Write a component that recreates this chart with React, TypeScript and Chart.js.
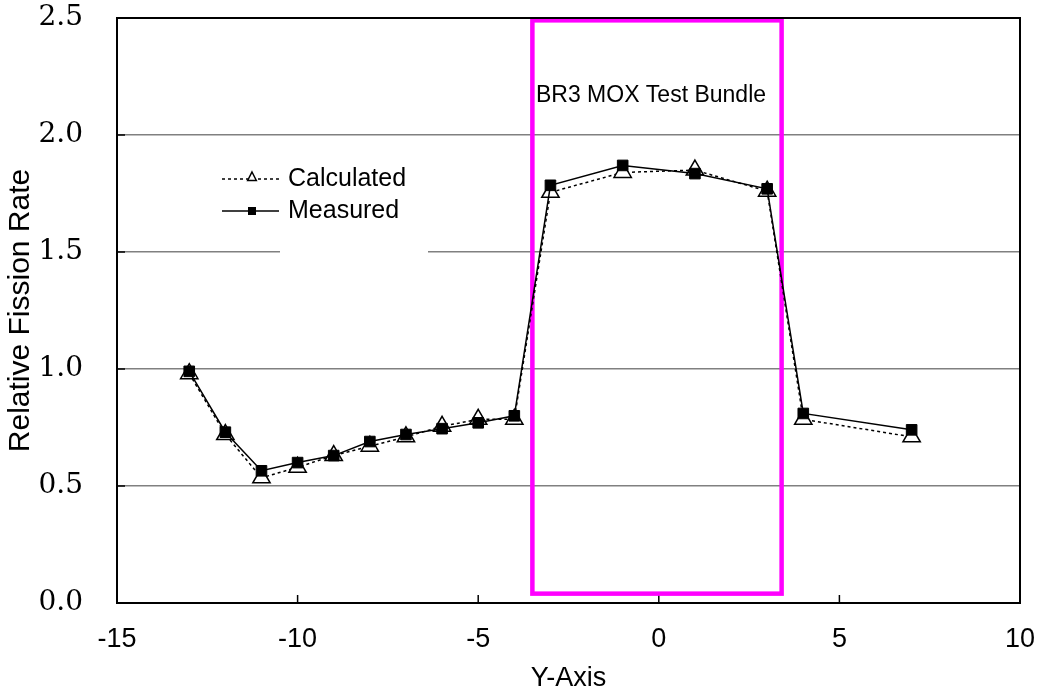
import React, { useEffect, useRef } from "react";
import { Chart, registerables } from "chart.js";

Chart.register(...registerables);

// ---- data ----
const yAxisPositions = [-13, -12, -11, -10, -9, -8, -7, -6, -5, -4, -3, -1, 1, 3, 4, 7];
const calculatedValues = [0.98, 0.72, 0.535, 0.58, 0.63, 0.67, 0.71, 0.755, 0.785, 0.785, 1.755, 1.84, 1.85, 1.76, 0.785, 0.71];
const measuredValues = [0.99, 0.73, 0.565, 0.6, 0.63, 0.69, 0.72, 0.745, 0.77, 0.8, 1.785, 1.87, 1.835, 1.77, 0.81, 0.74];
const xTickValues = [-15, -10, -5, 0, 5, 10];
const yTickValues = [0, 0.5, 1.0, 1.5, 2.0, 2.5];
const bundleXRange = [-3.5, 3.4];
const bundleYRange = [0.04, 2.49];
const bundleLabel = "BR3 MOX Test Bundle";
const seriesNames = ["Calculated", "Measured"];

const SANS = "'Liberation Sans', Arial, sans-serif";
const SERIF = "'DejaVu Serif', serif";

const decorPlugin = {
  id: "decor",
  beforeDatasetsDraw(chart: any) {
    const { ctx, chartArea, scales } = chart;
    const xs = scales.x;
    const ys = scales.y;
    ctx.save();
    // white legend backing (interrupts gridline)
    ctx.fillStyle = "#ffffff";
    ctx.fillRect(280, 150, 148, 106);
    // inner tick marks
    ctx.strokeStyle = "#000";
    ctx.lineWidth = 1.5;
    xTickValues.forEach((v) => {
      const px = xs.getPixelForValue(v);
      ctx.beginPath();
      ctx.moveTo(px, chartArea.bottom);
      ctx.lineTo(px, chartArea.bottom - 8);
      ctx.stroke();
    });
    yTickValues.forEach((v) => {
      const py = ys.getPixelForValue(v);
      ctx.beginPath();
      ctx.moveTo(chartArea.left, py);
      ctx.lineTo(chartArea.left + 8, py);
      ctx.stroke();
    });
    // magenta bundle box
    const bx0 = xs.getPixelForValue(bundleXRange[0]);
    const bx1 = xs.getPixelForValue(bundleXRange[1]);
    const by0 = ys.getPixelForValue(bundleYRange[1]);
    const by1 = ys.getPixelForValue(bundleYRange[0]);
    ctx.strokeStyle = "#ff00ff";
    ctx.lineWidth = 4.5;
    ctx.strokeRect(bx0, by0, bx1 - bx0, by1 - by0);
    // label
    ctx.fillStyle = "#000";
    ctx.font = `23px ${SANS}`;
    ctx.textAlign = "center";
    ctx.textBaseline = "alphabetic";
    ctx.fillText(bundleLabel, (bx0 + bx1) / 2 - 6, 101.5);
    ctx.restore();
  },
  afterDatasetsDraw(chart: any) {
    const { ctx, chartArea } = chart;
    ctx.save();
    // frame
    ctx.strokeStyle = "#000";
    ctx.lineWidth = 2;
    ctx.strokeRect(chartArea.left, chartArea.top, chartArea.right - chartArea.left, chartArea.bottom - chartArea.top);
    // legend
    const rows = [
      { y: 179, dash: [3, 3], marker: "triangle" },
      { y: 211, dash: [], marker: "square" },
    ];
    rows.forEach((r, i) => {
      ctx.strokeStyle = "#000";
      ctx.lineWidth = 1.5;
      ctx.setLineDash(r.dash);
      ctx.beginPath();
      ctx.moveTo(222, r.y);
      ctx.lineTo(279, r.y);
      ctx.stroke();
      ctx.setLineDash([]);
      if (r.marker === "triangle") {
        const cx = 252;
        const cy = r.y - 2;
        const rr = 5;
        ctx.fillStyle = "#fff";
        ctx.beginPath();
        ctx.moveTo(cx, cy - rr);
        ctx.lineTo(cx + rr * 0.866, cy + rr * 0.5 + 1);
        ctx.lineTo(cx - rr * 0.866, cy + rr * 0.5 + 1);
        ctx.closePath();
        ctx.fill();
        ctx.stroke();
      } else {
        ctx.fillStyle = "#000";
        ctx.fillRect(248, r.y - 4, 8, 8);
      }
      ctx.fillStyle = "#000";
      ctx.font = `25px ${SANS}`;
      ctx.textAlign = "left";
      ctx.textBaseline = "middle";
      ctx.fillText(seriesNames[i], 288, r.y);
    });
    ctx.restore();
  },
};

export default function App() {
  const canvasRef = useRef<HTMLCanvasElement | null>(null);

  useEffect(() => {
    if (!canvasRef.current) return;
    const chart = new Chart(canvasRef.current, {
      type: "line",
      data: {
        datasets: [
          {
            label: seriesNames[1],
            data: yAxisPositions.map((x, i) => ({ x, y: measuredValues[i] })),
            borderColor: "#000",
            borderWidth: 1.5,
            pointStyle: "rect",
            pointRadius: 7.5,
            pointBackgroundColor: "#000",
            pointBorderColor: "#000",
            pointBorderWidth: 1,
            tension: 0,
            order: 0,
          },
          {
            label: seriesNames[0],
            data: yAxisPositions.map((x, i) => ({ x, y: calculatedValues[i] })),
            borderColor: "#000",
            borderWidth: 1.5,
            borderDash: [3, 3],
            pointStyle: "triangle",
            pointRadius: 10,
            pointBackgroundColor: "#fff",
            pointBorderColor: "#000",
            pointBorderWidth: 1.5,
            tension: 0,
            order: 1,
          },
        ],
      },
      options: {
        responsive: false,
        animation: false,
        events: [],
        layout: { padding: { top: 18, right: 18, left: 0, bottom: 0 } },
        plugins: { legend: { display: false }, tooltip: { enabled: false } },
        scales: {
          x: {
            type: "linear",
            min: -15,
            max: 10,
            afterBuildTicks: (s: any) => {
              s.ticks = xTickValues.map((v) => ({ value: v }));
            },
            afterFit: (s: any) => {
              s.height = 92;
              s.paddingLeft = 0;
              s.paddingRight = 0;
            },
            grid: { display: false, drawTicks: false },
            border: { display: false },
            ticks: {
              color: "#000",
              padding: 20,
              font: { family: SANS, size: 27 },
              callback: (v: any) => String(v),
            },
            title: {
              display: true,
              text: "Y-Axis",
              color: "#000",
              font: { family: SANS, size: 27 },
              padding: { top: 0, bottom: 0 },
            },
          },
          y: {
            type: "linear",
            min: 0,
            max: 2.5,
            afterBuildTicks: (s: any) => {
              s.ticks = yTickValues.map((v) => ({ value: v }));
            },
            afterFit: (s: any) => {
              s.width = 117;
              s.paddingTop = 0;
              s.paddingBottom = 0;
            },
            grid: { color: "#808080", lineWidth: 1.5, drawTicks: false },
            border: { display: false },
            ticks: {
              color: "#000",
              padding: 34,
              font: { family: SERIF, size: 28 },
              callback: (v: any) => Number(v).toFixed(1),
            },
            title: {
              display: true,
              text: "Relative Fission Rate",
              color: "#000",
              font: { family: SANS, size: 30 },
              padding: { top: 3, bottom: 0 },
            },
          },
        },
      },
      plugins: [decorPlugin],
    });
    return () => chart.destroy();
  }, []);

  return (
    <canvas
      ref={canvasRef}
      width={1038}
      height={695}
      style={{ position: "fixed", left: 0, top: 0, display: "block", background: "#fff" }}
    />
  );
}
